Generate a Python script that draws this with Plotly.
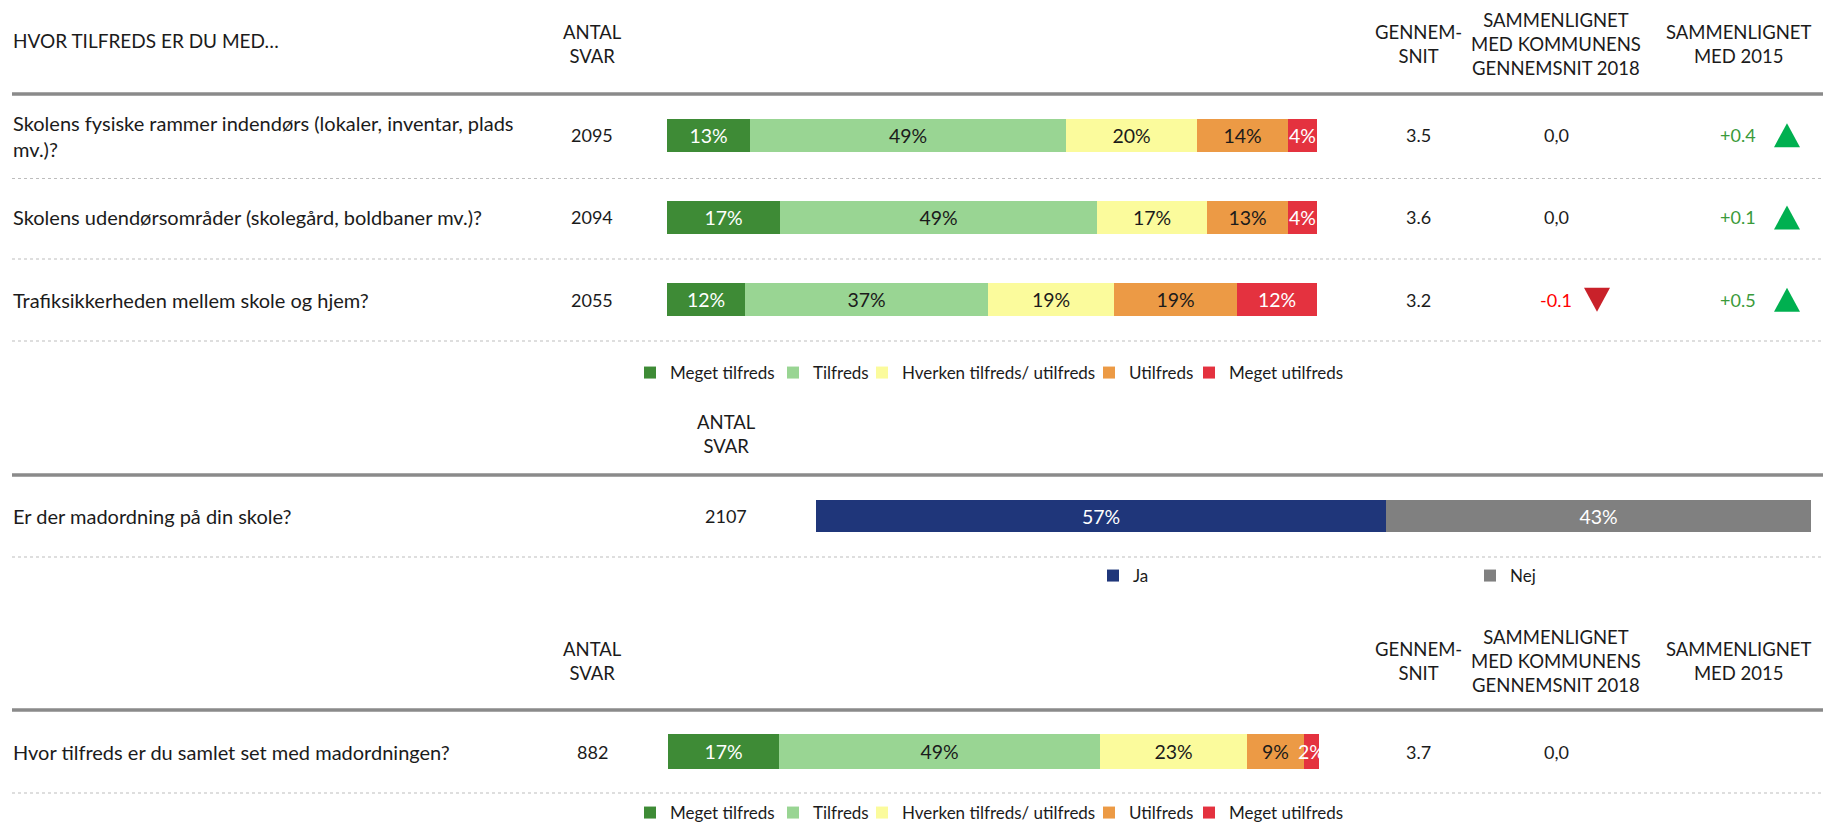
import plotly.graph_objects as go

# The page shows the figure with an 8 px body margin, so the figure is made
# 8 px smaller and every pixel position below is given in window pixels.
OFF = 8
WIN_W, WIN_H = 1831, 824
W, H = WIN_W - OFF, WIN_H - OFF
FONT = "Lato"
TXT = "#1b1b1b"

# ---------------- data ----------------
categories = ["Meget tilfreds", "Tilfreds", "Hverken tilfreds/ utilfreds", "Utilfreds", "Meget utilfreds"]
cat_colors = ["#3E8B36", "#99D593", "#FBFB9C", "#EC9A45", "#E4323F"]
cat_text_colors = ["white", TXT, TXT, TXT, "white"]

questions = [
    "Skolens fysiske rammer indendørs (lokaler, inventar, plads<br>mv.)?",
    "Skolens udendørsområder (skolegård, boldbaner mv.)?",
    "Trafiksikkerheden mellem skole og hjem?",
]
antal_svar = [2095, 2094, 2055]
gennemsnit = ["3.5", "3.6", "3.2"]
kommune_text = ["0,0", "0,0", "-0.1"]
kommune_diff = [0.0, 0.0, -0.1]
aar2015_text = ["+0.4", "+0.1", "+0.5"]
aar2015_diff = [0.4, 0.1, 0.5]

meget_tilfreds = [12.8, 17.4, 12.0]
tilfreds = [48.6, 48.8, 37.4]
hverken = [20.2, 16.8, 19.4]
utilfreds = [14.0, 12.6, 18.9]
meget_utilfreds = [4.4, 4.4, 12.3]
section1_values = [meget_tilfreds, tilfreds, hverken, utilfreds, meget_utilfreds]

mad_question = "Er der madordning på din skole?"
mad_antal = 2107
mad_categories = ["Ja", "Nej"]
mad_colors = ["#1F367A", "#808080"]
mad_values = [57.3, 42.7]

sat_question = "Hvor tilfreds er du samlet set med madordningen?"
sat_antal = 882
sat_gennemsnit = "3.7"
sat_kommune_text = "0,0"
sat_values = [17.1, 49.2, 22.6, 8.8, 2.3]

# ---------------- layout helpers ----------------
def fx(px):
    return (px - OFF) / W

def fy(py):
    return 1 - (py - OFF) / H

X_LABEL, X_ANTAL, X_GEN, X_KOM, X_2015 = 11, 592, 1418, 1556, 1738
GREEN_TXT, RED_TXT = "#3A9A3A", "#FF0000"
GREEN_TRI, RED_TRI = "#00B050", "#C9212A"
LBL, NUM, HDR, BAR, LEG = 20, 18, 18.5, 19.5, 17

# legend entry widths (px) so the swatches sit where the reference has them
cat_legend_w = [98, 44, 182, 55, 130]
mad_legend_w = [332, 40]

fig = go.Figure()

# section 1 stacked bars
for k, cat in enumerate(categories):
    fig.add_trace(go.Bar(
        y=list(range(len(questions))), x=section1_values[k], orientation="h",
        name=cat, marker=dict(color=cat_colors[k], line=dict(width=0)),
        width=0.40, texttemplate="%{x:.0f}%", textposition="inside", textangle=0,
        insidetextanchor="middle", constraintext="none",
        textfont=dict(family=FONT, size=BAR, color=cat_text_colors[k]),
        xaxis="x", yaxis="y", legend="legend", legendwidth=cat_legend_w[k],
        hoverinfo="skip",
    ))

# section 2 Ja / Nej
for k, cat in enumerate(mad_categories):
    fig.add_trace(go.Bar(
        y=[0], x=[mad_values[k]], orientation="h", name=cat,
        marker=dict(color=mad_colors[k], line=dict(width=0)),
        width=0.40, texttemplate="%{x:.0f}%", textposition="inside", textangle=0,
        insidetextanchor="middle", constraintext="none",
        textfont=dict(family=FONT, size=BAR, color="white"),
        xaxis="x2", yaxis="y2", legend="legend2", legendwidth=mad_legend_w[k],
        hoverinfo="skip",
    ))

# section 3 stacked bar
for k, cat in enumerate(categories):
    fig.add_trace(go.Bar(
        y=[0], x=[sat_values[k]], orientation="h", name=cat,
        marker=dict(color=cat_colors[k], line=dict(width=0)),
        width=0.42, texttemplate="%{x:.0f}%", textposition="inside", textangle=0,
        insidetextanchor="middle", constraintext="none",
        textfont=dict(family=FONT, size=BAR, color=cat_text_colors[k]),
        xaxis="x3", yaxis="y3", legend="legend3", legendwidth=cat_legend_w[k],
        hoverinfo="skip",
    ))

# change-indicator triangles, drawn as filled polygons on a pixel overlay axis
S1_TOP, S1_BOT = 94, 341
def row_center(i, n=3, top=S1_TOP, bot=S1_BOT):
    return top + (i + 0.5) * (bot - top) / n

TRI_W, TRI_H = 26, 24
def tri(cx, cy, up):
    xs = [cx - TRI_W / 2, cx + TRI_W / 2, cx, cx - TRI_W / 2, None]
    if up:
        ys = [cy + TRI_H / 2, cy + TRI_H / 2, cy - TRI_H / 2, cy + TRI_H / 2, None]
    else:
        ys = [cy - TRI_H / 2, cy - TRI_H / 2, cy + TRI_H / 2, cy - TRI_H / 2, None]
    return xs, ys

for diffs, xc in [(kommune_diff, X_KOM + 41), (aar2015_diff, X_2015 + 49)]:
    for i, d in enumerate(diffs):
        if d == 0:
            continue
        tx, ty = tri(xc, row_center(i), d > 0)
        fig.add_trace(go.Scatter(
            x=tx, y=ty, mode="lines", fill="toself",
            fillcolor=GREEN_TRI if d > 0 else RED_TRI, line=dict(width=0),
            xaxis="x4", yaxis="y4", showlegend=False, hoverinfo="skip",
        ))

# ---------------- annotations ----------------
ann = []
def text(x, y, s, size=18, color=TXT, align="center", yref="paper", yshift=0):
    ann.append(dict(
        x=fx(x), y=y, xref="paper", yref=yref, text=s, showarrow=False,
        xanchor="left" if align == "left" else "center",
        yanchor="middle", align=align, yshift=yshift,
        font=dict(family=FONT, size=size, color=color),
    ))

def col_color(d):
    return TXT if d == 0 else (GREEN_TXT if d > 0 else RED_TXT)

# header 1
text(X_LABEL, fy(41), "HVOR TILFREDS ER DU MED…", 19, align="left")
text(X_ANTAL, fy(44), "ANTAL<br>SVAR", HDR)
text(X_GEN, fy(44), "GENNEM-<br>SNIT", HDR)
text(X_KOM, fy(44), "SAMMENLIGNET<br>MED KOMMUNENS<br>GENNEMSNIT 2018", HDR)
text(X_2015, fy(44), "SAMMENLIGNET<br>MED 2015", HDR)

for i, q in enumerate(questions):
    text(X_LABEL, i, q, LBL, align="left", yref="y", yshift=-1 if "<br>" in q else 0)
    text(X_ANTAL, i, str(antal_svar[i]), NUM, yref="y")
    text(X_GEN, i, gennemsnit[i], NUM, yref="y")
    text(X_KOM, i, kommune_text[i], NUM, color=col_color(kommune_diff[i]), yref="y")
    text(X_2015, i, aar2015_text[i], NUM, color=col_color(aar2015_diff[i]), yref="y")

# header 2
text(726, fy(434), "ANTAL<br>SVAR", HDR)
text(X_LABEL, 0, mad_question, LBL, align="left", yref="y2")
text(726, 0, str(mad_antal), NUM, yref="y2")

# header 3
text(X_ANTAL, fy(661), "ANTAL<br>SVAR", HDR)
text(X_GEN, fy(661), "GENNEM-<br>SNIT", HDR)
text(X_KOM, fy(661), "SAMMENLIGNET<br>MED KOMMUNENS<br>GENNEMSNIT 2018", HDR)
text(X_2015, fy(661), "SAMMENLIGNET<br>MED 2015", HDR)
text(X_LABEL, 0, sat_question, LBL, align="left", yref="y3")
text(X_ANTAL, 0, str(sat_antal), NUM, yref="y3")
text(X_GEN, 0, sat_gennemsnit, NUM, yref="y3")
text(X_KOM, 0, sat_kommune_text, NUM, yref="y3")

# ---------------- lines ----------------
shapes = []
for yy in [94, 475, 710]:
    shapes.append(dict(type="line", xref="paper", yref="paper", x0=fx(12), x1=1,
                       y0=fy(yy), y1=fy(yy), line=dict(color="#8A8A8A", width=3.5)))
for yy in [178.5, 259, 341, 557, 793]:
    shapes.append(dict(type="line", xref="paper", yref="paper", x0=fx(12), x1=1,
                       y0=fy(yy), y1=fy(yy), line=dict(color="#BDBDBD", width=1, dash="dot")))

hidden = dict(visible=False, fixedrange=True)
legend_common = dict(orientation="h", xanchor="left", yanchor="middle",
                     font=dict(family=FONT, size=LEG, color=TXT), bgcolor="rgba(0,0,0,0)",
                     traceorder="normal", itemclick=False, itemdoubleclick=False)
fig.update_layout(
    width=W, height=H, margin=dict(l=0, r=0, t=0, b=0, pad=0, autoexpand=False),
    paper_bgcolor="white", plot_bgcolor="rgba(0,0,0,0)",
    barmode="stack", bargap=0, showlegend=True,
    font=dict(family=FONT, color=TXT),
    xaxis=dict(domain=[fx(667), fx(1317)], range=[0, 100], anchor="y", **hidden),
    yaxis=dict(domain=[fy(S1_BOT), fy(S1_TOP)], range=[2.5, -0.5], anchor="x", **hidden),
    xaxis2=dict(domain=[fx(816), fx(1811)], range=[0, 100], anchor="y2", **hidden),
    yaxis2=dict(domain=[fy(557), fy(475)], range=[0.5, -0.5], anchor="x2", **hidden),
    xaxis3=dict(domain=[fx(668), fx(1319)], range=[0, 100], anchor="y3", **hidden),
    yaxis3=dict(domain=[fy(793), fy(710)], range=[0.5, -0.5], anchor="x3", **hidden),
    xaxis4=dict(domain=[0, 1], range=[OFF, OFF + W], anchor="y4", **hidden),
    yaxis4=dict(domain=[0, 1], range=[OFF + H, OFF], anchor="x4", **hidden),
    legend=dict(x=fx(630), y=fy(373), **legend_common),
    legend2=dict(x=fx(1093), y=fy(576), **legend_common),
    legend3=dict(x=fx(630), y=fy(813), **legend_common),
    annotations=ann, shapes=shapes,
)

fig.write_html("out.html")
